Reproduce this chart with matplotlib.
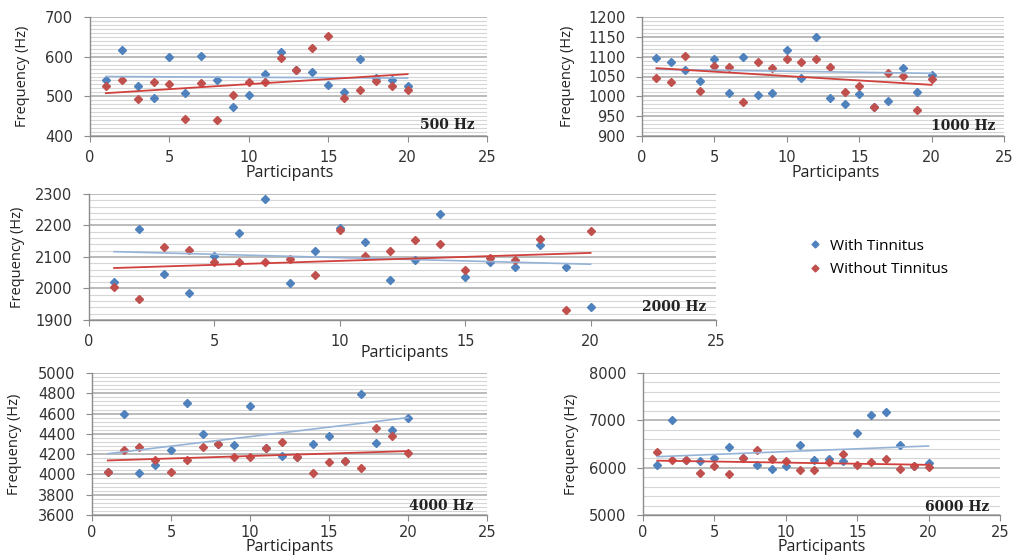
import matplotlib
matplotlib.use("Agg")
import matplotlib.pyplot as plt
from matplotlib.ticker import MultipleLocator
from matplotlib.lines import Line2D

# ---------------- data ----------------
participants = list(range(1, 21))

with_500 = [540, 617, 525, 497, 600, 509, 602, 542, 474, 504,
            557, 612, 567, 562, 529, 512, 594, 546, 542, 525]
without_500 = [525, 541, 494, 535, 532, 442, 533, 440, 504, 537,
               537, 596, 567, 621, 652, 497, 517, 539, 527, 517]

with_1000 = [1097, 1087, 1066, 1039, 1093, 1008, 1098, 1003, 1009, 1118,
             1046, 1150, 997, 980, 1006, 972, 987, 1072, 1012, 1054]
without_1000 = [1045, 1035, 1102, 1013, 1076, 1073, 986, 1087, 1071, 1094,
                1087, 1093, 1075, 1012, 1025, 972, 1060, 1051, 966, 1043]

with_2000 = [2022, 2188, 2046, 1987, 2102, 2177, 2283, 2016, 2118, 2191,
             2148, 2026, 2092, 2238, 2037, 2083, 2067, 2138, 2069, 1941]
without_2000 = [2004, 1966, 2132, 2121, 2083, 2085, 2085, 2095, 2042, 2186,
                2103, 2119, 2153, 2140, 2058, 2097, 2092, 2156, 1932, 2182]

with_4000 = [4026, 4593, 4016, 4092, 4237, 4708, 4402, 4300, 4287, 4675,
             4258, 4185, 4170, 4303, 4379, 4132, 4797, 4310, 4441, 4560]
without_4000 = [4026, 4237, 4270, 4142, 4026, 4142, 4267, 4300, 4171, 4171,
                4264, 4316, 4170, 4013, 4125, 4132, 4066, 4455, 4379, 4214]

with_6000 = [6049, 7000, 6162, 6141, 6211, 6437, 6211, 6049, 5979, 6035,
             6479, 6155, 6176, 6141, 6725, 7105, 7176, 6479, 6035, 6092]
without_6000 = [6331, 6162, 6162, 5894, 6035, 5873, 6211, 6373, 6190, 6141,
                5944, 5951, 6120, 6282, 6056, 6127, 6176, 5979, 6035, 6014]

# linear trend lines (value at participant 1 and participant 20)
trend_x = [1, 20]
trend_with_500 = [550, 546]
trend_without_500 = [508, 556]
trend_with_1000 = [1068, 1058]
trend_without_1000 = [1071, 1029]
trend_with_2000 = [2117, 2077]
trend_without_2000 = [2065, 2113]
trend_with_4000 = [4204, 4560]
trend_without_4000 = [4138, 4230]
trend_with_6000 = [6232, 6458]
trend_without_6000 = [6148, 6060]

panel_labels = ["500 Hz", "1000 Hz", "2000 Hz", "4000 Hz", "6000 Hz"]
series_names = ["With Tinnitus", "Without Tinnitus"]
x_title = "Participants"
y_title = "Frequency (Hz)"

# ---------------- style ----------------
W, H = 1013, 556
BLUE = "#4f81bd"
RED = "#c0504d"
BLUE_TREND = "#95b3d7"
RED_TREND = "#d0403c"
TICK_FONT = "DejaVu Sans"
LABEL_FONT = "Open Sans"

fig = plt.figure(figsize=(W / 100, H / 100), dpi=100)
fig.patch.set_facecolor("white")


def add_axes_px(left, right, top, bottom):
    return fig.add_axes([left / W, 1 - bottom / H, (right - left) / W, (bottom - top) / H])


panels = [
    dict(box=(90, 487, 17, 136), ylim=(400, 700), major=100, minor=10,
         w=with_500, wo=without_500, tw=trend_with_500, two=trend_without_500,
         ylab_x=-0.151, xlab=(0.504, -0.24), tag=(0.97, 0.09)),
    dict(box=(642, 1004, 17, 136), ylim=(900, 1200), major=50, minor=10,
         w=with_1000, wo=without_1000, tw=trend_with_1000, two=trend_without_1000,
         ylab_x=-0.185, xlab=(0.535, -0.24), tag=(0.975, 0.08)),
    dict(box=(89, 716, 194, 320), ylim=(1900, 2300), major=100, minor=20,
         w=with_2000, wo=without_2000, tw=trend_with_2000, two=trend_without_2000,
         ylab_x=-0.102, xlab=(0.504, -0.20), tag=(0.984, 0.10)),
    dict(box=(92, 487, 373, 515), ylim=(3600, 5000), major=200, minor=40,
         w=with_4000, wo=without_4000, tw=trend_with_4000, two=trend_without_4000,
         ylab_x=-0.177, xlab=(0.50, -0.17), tag=(0.965, 0.06)),
    dict(box=(643, 1000, 373, 515), ylim=(5000, 8000), major=1000, minor=200,
         w=with_6000, wo=without_6000, tw=trend_with_6000, two=trend_without_6000,
         ylab_x=-0.179, xlab=(0.501, -0.17), tag=(0.97, 0.055)),
]

for i, (p, tag) in enumerate(zip(panels, panel_labels)):
    l, r, t, b = p["box"]
    ax = add_axes_px(l, r, t, b)
    ax.set_xlim(0, 25)
    ax.set_ylim(*p["ylim"])
    ax.xaxis.set_major_locator(MultipleLocator(5))
    ax.yaxis.set_major_locator(MultipleLocator(p["major"]))
    ax.yaxis.set_minor_locator(MultipleLocator(p["minor"]))
    ax.grid(which="major", axis="y", color="#a8a8a8", lw=1.1)
    ax.grid(which="minor", axis="y", color="#d6d6d6", lw=0.8)
    ax.set_axisbelow(True)
    for s in ("top", "right"):
        ax.spines[s].set_visible(False)
    for s in ("left", "bottom"):
        ax.spines[s].set_color("#8c8c8c")
        ax.spines[s].set_linewidth(1.0)
    ax.tick_params(which="minor", length=0)
    ax.tick_params(which="major", length=4, color="#8c8c8c", labelsize=10.5,
                   labelcolor="#333333")
    ax.tick_params(axis="y", which="major", pad=8)
    ax.tick_params(axis="x", which="major", pad=6 if i < 3 else 3)
    for lab in ax.get_xticklabels() + ax.get_yticklabels():
        lab.set_family(TICK_FONT)

    ax.plot(participants, p["w"], linestyle="none", marker="D", ms=4.3,
            color=BLUE, mec=BLUE, zorder=3)
    ax.plot(participants, p["wo"], linestyle="none", marker="D", ms=4.3,
            color=RED, mec=RED, zorder=3)
    ax.plot(trend_x, p["tw"], color=BLUE_TREND, lw=1.2, zorder=4)
    ax.plot(trend_x, p["two"], color=RED_TREND, lw=1.3, zorder=4)

    ax.set_ylabel(y_title, family=LABEL_FONT, fontsize=10.5, color="#222222")
    ax.yaxis.set_label_coords(p["ylab_x"], 0.5)
    ax.set_xlabel(x_title, family=LABEL_FONT, fontsize=11.5, color="#222222")
    ax.xaxis.set_label_coords(*p["xlab"])
    ax.text(p["tag"][0], p["tag"][1], tag, transform=ax.transAxes, ha="right",
            va="center", family="DejaVu Serif", weight="bold", fontsize=10,
            color="#222222", zorder=5)

legend_handles = [
    Line2D([], [], linestyle="none", marker="D", ms=3.5, color=BLUE),
    Line2D([], [], linestyle="none", marker="D", ms=3.5, color=RED),
]
fig.legend(legend_handles, series_names, loc="center left",
           bbox_to_anchor=(795 / W, 1 - 258 / H), frameon=False,
           handlelength=0.8, handletextpad=0.6, labelspacing=0.55,
           prop={"family": LABEL_FONT, "size": 11})

fig.savefig("out.png", dpi=100, facecolor="white")
